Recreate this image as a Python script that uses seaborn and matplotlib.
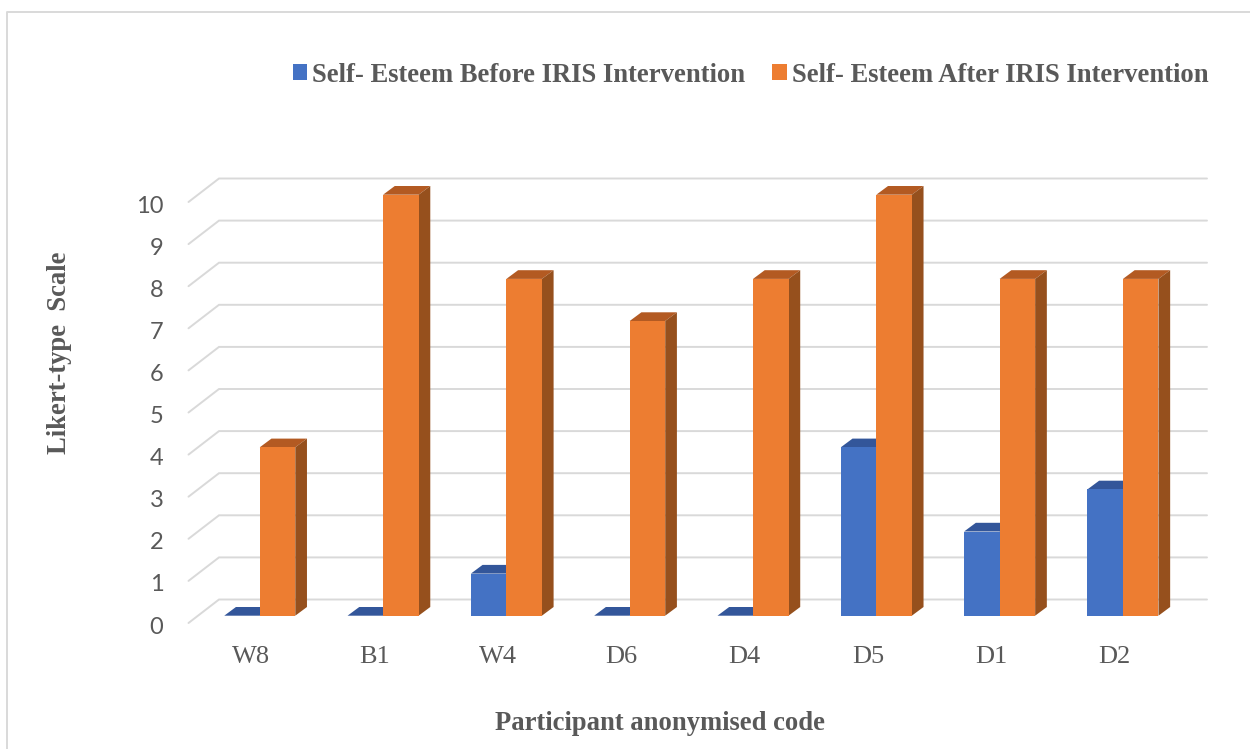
import pandas as pd
import seaborn as sns
import matplotlib.pyplot as plt
from matplotlib.lines import Line2D
from matplotlib.patches import Polygon
from matplotlib.transforms import Affine2D

# values
codes = ["W8", "B1", "W4", "D6", "D4", "D5", "D1", "D2"]
before = [0, 0, 1, 0, 0, 4, 2, 3]
after = [4, 10, 8, 7, 8, 10, 8, 8]
y_ticks = [0, 1, 2, 3, 4, 5, 6, 7, 8, 9, 10]
before_name = "Self- Esteem Before IRIS Intervention"
after_name = "Self- Esteem After IRIS Intervention"

sns.set_style("white")
plt.rcParams['font.family'] = ['Liberation Serif', 'DejaVu Serif']

W, H = 1250, 749
GRAY = "#595959"
GRID = "#d9d9d9"

df = pd.DataFrame({
    "code": codes * 2,
    "score": before + after,
    "series": [before_name] * len(codes) + [after_name] * len(codes),
})

fig = plt.figure(figsize=(W / 100, H / 100), dpi=100)
# plot box in pixels: x 198.1-1184.6, y 194.7-615.7
ax = fig.add_axes([198.1 / W, 1 - 615.7 / H, 986.5 / W, 421.0 / H])

sns.barplot(data=df, x="code", y="score", hue="series", ax=ax,
            palette=["#4472C4", "#ED7D31"], saturation=1,
            width=0.576, gap=0, linewidth=0, zorder=3)
ax.set_xlim(-0.5, 7.5)
ax.set_ylim(0, 10)
sns.despine(ax=ax, left=True, bottom=True)

# px -> data units, the fake 3D is all done with these
ux = 8 / 986.5
uy = 10 / 421.0

# back wall grid and the little diagonals on the left
for v in y_ticks:
    back = v + 16.2 * uy
    front = v - 7.3 * uy
    ax.plot([-0.5 - 9.6 * ux, -0.5 + 20.9 * ux, 7.5 + 22.4 * ux], [front, back, back],
            color=GRID, lw=1.4, clip_on=False, zorder=1, solid_joinstyle="miter")

# depth of the bars, top and side faces
dx = 11.7 * ux
dy = 8.7 * uy
shades = [("#33569A", "#2F5597", 2.0), ("#B35A22", "#96501D", 2.5)]
for bars, (top_c, side_c, z) in zip(ax.containers, shades):
    for b in bars:
        x0, x1, h = b.get_x(), b.get_x() + b.get_width(), b.get_height()
        ax.add_patch(Polygon([(x0, h), (x1, h), (x1 + dx, h + dy), (x0 + dx, h + dy)],
                             facecolor=top_c, lw=0, clip_on=False, zorder=z))
        ax.add_patch(Polygon([(x1, 0), (x1 + dx, dy), (x1 + dx, h + dy), (x1, h)],
                             facecolor=side_c, lw=0, clip_on=False, zorder=z))

ax.set_yticks(y_ticks)
ax.tick_params(axis="y", length=0, pad=25, labelsize=17, labelcolor=GRAY)
ax.tick_params(axis="x", length=0, pad=22, labelsize=19, labelcolor=GRAY)
for t in ax.get_yticklabels():
    t.set_family(["Lato", "DejaVu Sans"])
    t.set_transform(t.get_transform() + Affine2D().translate(0, -9.3))
for t in ax.get_xticklabels():
    t.set_transform(t.get_transform() + Affine2D().translate(-8.5, 0))

ax.set_xlabel("")
ax.set_ylabel("")
fig.text(660 / W, 1 - 723 / H, "Participant anonymised code", ha="center", va="center",
         fontsize=19.2, fontweight="bold", color=GRAY)
fig.text(59 / W, 1 - 353 / H, "Likert-type  Scale", ha="center", va="center", rotation=90,
         fontsize=19.2, fontweight="bold", color=GRAY)

handles, labels = ax.get_legend_handles_labels()
ax.legend(handles, labels, ncols=2, frameon=False,
          loc="center left", bbox_to_anchor=(268.5 / W, 1 - 75 / H), bbox_transform=fig.transFigure,
          handlelength=0.56, handleheight=0.56, handletextpad=0.19, columnspacing=0.98,
          prop={"size": 19.2, "weight": "bold"}, labelcolor=GRAY)

# chart frame, only top and left are inside the picture
fig.add_artist(Line2D([7 / W, 7 / W, 1], [0, 1 - 12 / H, 1 - 12 / H], color=GRID, lw=1.4))

fig.savefig("out.png", dpi=100)
